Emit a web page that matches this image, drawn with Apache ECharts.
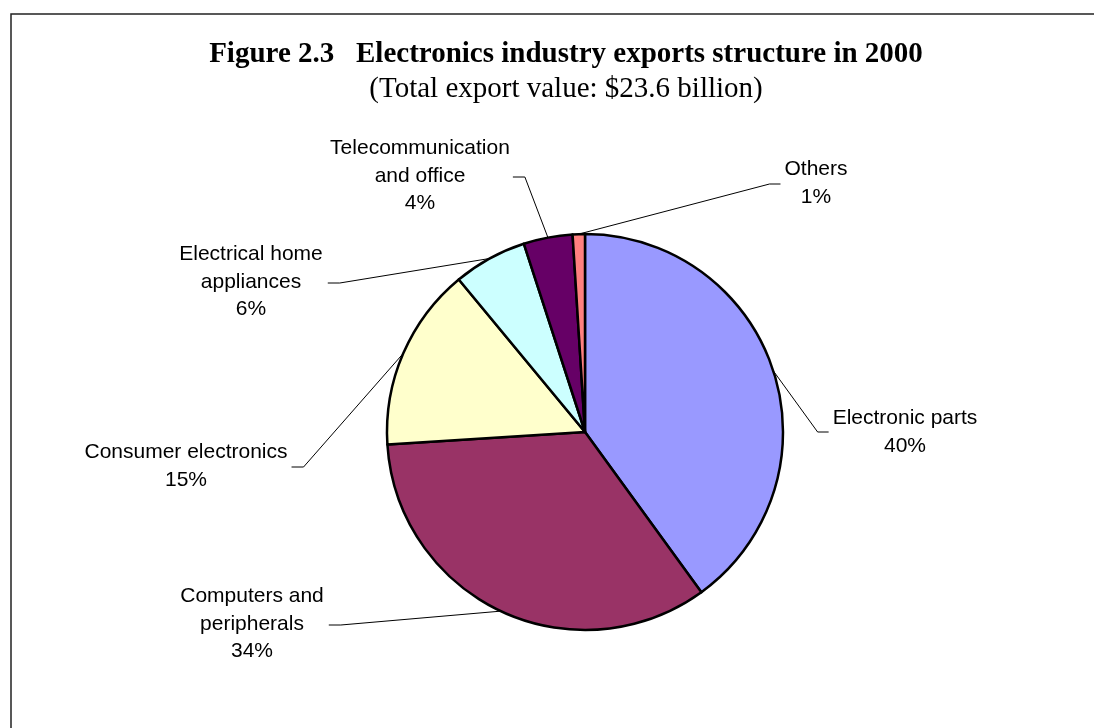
<!DOCTYPE html>
<html>
<head>
<meta charset="utf-8">
<title>Electronics industry exports structure in 2000</title>
<script src="https://cdn.jsdelivr.net/npm/echarts@6/dist/echarts.min.js"></script>
<style>
  html, body { margin: 0; padding: 0; background: #ffffff; }
  #chart { width: 1094px; height: 728px; }
</style>
</head>
<body>
<div id="chart"></div>
<script>
// Export categories, clockwise from 12 o'clock
const categories = [
  'Electronic parts',
  'Computers and\nperipherals',
  'Consumer electronics',
  'Electrical home\nappliances',
  'Telecommunication\nand office',
  'Others'
];
// Share of total exports, %
const shares = [40, 34, 15, 6, 4, 1];
const sliceColors = ['#9999FF', '#993366', '#FFFFCC', '#CCFFFF', '#660066', '#FF8080'];

const titleText = 'Figure 2.3   Electronics industry exports structure in 2000';
const subtitleText = '(Total export value: $23.6 billion)';

// Label placement: block centre and which side the leader line attaches to
const labelSpots = [
  { x: 905, y: 432, side: 'left',  lineY: 432, gap: 4 },
  { x: 252, y: 624, side: 'right', lineY: 625, gap: 5 },
  { x: 186, y: 466, side: 'right', lineY: 467, gap: 4 },
  { x: 251, y: 282, side: 'right', lineY: 283, gap: 5 },
  { x: 420, y: 176, side: 'right', lineY: 177, gap: 3 },
  { x: 816, y: 183, side: 'left',  lineY: 184, gap: 4 }
];

const chart = echarts.init(document.getElementById('chart'), null, { renderer: 'canvas' });

chart.setOption({
  backgroundColor: '#ffffff',
  animation: false,
  title: [
    {
      text: titleText,
      left: 561,
      top: 35,
      textAlign: 'center',
      textStyle: { fontFamily: 'Liberation Serif', fontWeight: 'bold', fontSize: 29, color: '#000' }
    },
    {
      text: subtitleText,
      left: 561,
      top: 70,
      textAlign: 'center',
      textStyle: { fontFamily: 'Liberation Serif', fontWeight: 'normal', fontSize: 29, color: '#000' }
    }
  ],
  graphic: [
    {
      type: 'polyline',
      shape: { points: [[11, 740], [11, 14], [1100, 14]] },
      style: { stroke: '#222', lineWidth: 1.5, fill: null },
      silent: true
    }
  ],
  series: [
    {
      type: 'pie',
      center: [585, 432],
      radius: 198,
      startAngle: 90,
      clockwise: true,
      avoidLabelOverlap: false,
      data: categories.map((name, i) => ({
        name: name,
        value: shares[i],
        itemStyle: { color: sliceColors[i] }
      })),
      itemStyle: { borderColor: '#000', borderWidth: 2.5 },
      emphasis: { disabled: true },
      label: {
        show: true,
        formatter: p => p.name + '\n' + Math.round(p.percent) + '%',
        fontFamily: 'Liberation Sans',
        fontSize: 21,
        lineHeight: 27.5,
        color: '#000'
      },
      labelLine: {
        show: true,
        length: 20,
        length2: 10,
        lineStyle: { color: '#000', width: 1 }
      },
      labelLayout: function (params) {
        const spot = labelSpots[params.dataIndex];
        const w = params.labelRect.width;
        const start = params.labelLinePoints ? params.labelLinePoints[0] : [spot.x, spot.y];
        const edgeX = spot.side === 'left' ? spot.x - w / 2 - spot.gap : spot.x + w / 2 + spot.gap;
        const elbowX = spot.side === 'left' ? edgeX - 11 : edgeX + 12;
        return {
          x: spot.x,
          y: spot.y,
          align: 'center',
          verticalAlign: 'middle',
          labelLinePoints: [start, [elbowX, spot.lineY], [edgeX, spot.lineY]]
        };
      }
    }
  ]
});
</script>
</body>
</html>
